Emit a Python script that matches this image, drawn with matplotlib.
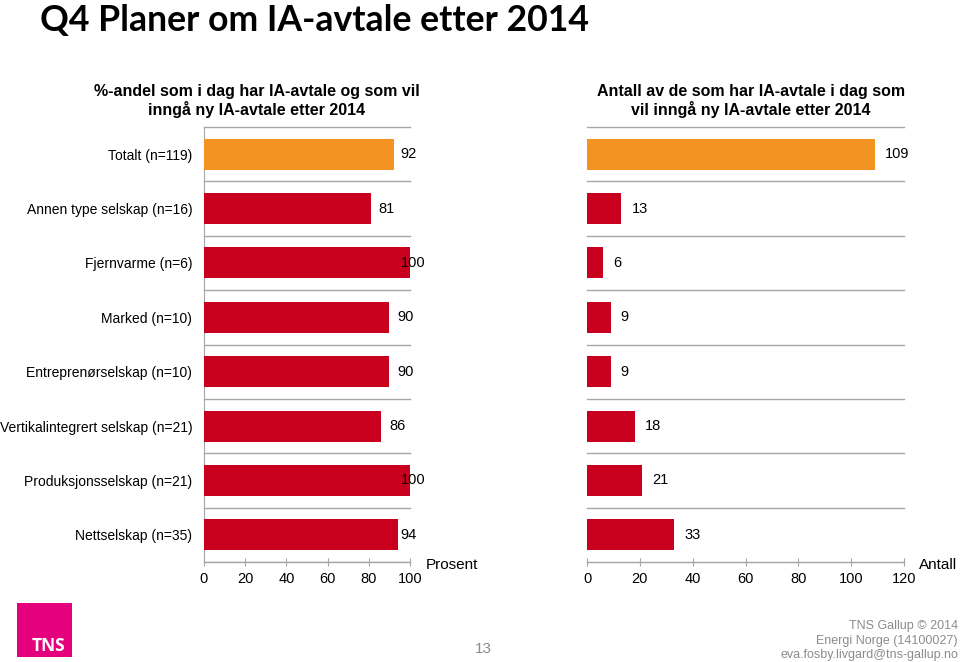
import matplotlib
matplotlib.use("Agg")
import matplotlib.pyplot as plt
from matplotlib.patches import Rectangle

plt.rcParams['font.family'] = ['Liberation Sans', 'DejaVu Sans']

categories = ["Totalt (n=119)", "Annen type selskap (n=16)", "Fjernvarme (n=6)",
              "Marked (n=10)", "Entreprenørselskap (n=10)",
              "Vertikalintegrert selskap (n=21)", "Produksjonsselskap (n=21)",
              "Nettselskap (n=35)"]
prosent = [92, 81, 100, 90, 90, 86, 100, 94]
antall = [109, 13, 6, 9, 9, 18, 21, 33]
left_ticks = [0, 20, 40, 60, 80, 100]
right_ticks = [0, 20, 40, 60, 80, 100, 120]

ORANGE = "#F39321"
RED = "#C8001E"
GRID = "#A6A6A6"
colors = [ORANGE] + [RED] * (len(categories) - 1)

fig = plt.figure(figsize=(9.6, 6.62), dpi=100)

H = 662.0
W = 960.0
ybot = 1 - 562 / H
ytop = 1 - 127 / H
axL = fig.add_axes([204 / W, ybot, 206 / W, ytop - ybot])
axR = fig.add_axes([587 / W, ybot, 317 / W, ytop - ybot])

n = len(categories)
ypos = list(range(n))

for ax, vals, xmax, ticks, off, cap in [(axL, prosent, 100, left_ticks, 3.8, 95.5),
                                         (axR, antall, 120, right_ticks, 3.8, 200)]:
    ax.barh(ypos, vals, height=0.57, color=colors, zorder=3)
    ax.set_xlim(0, xmax)
    ax.set_ylim(n - 0.5, -0.5)
    for b in range(n + 1):
        ax.axhline(b - 0.5, color=GRID, lw=1.0, zorder=1, clip_on=False)
    for s in ['top', 'right']:
        ax.spines[s].set_visible(False)
    ax.spines['bottom'].set_color(GRID)
    ax.spines['left'].set_color(GRID)
    ax.set_xticks(ticks)
    ax.set_xticklabels([str(t) for t in ticks], fontsize=10.5)
    ax.tick_params(axis='x', direction='inout', length=6, color=GRID, pad=4)
    for i, v in enumerate(vals):
        ax.text(min(v + off, cap), i, str(v), va='center', ha='left', fontsize=10.5, zorder=4)

axL.set_yticks(ypos)
axL.set_yticklabels(categories, fontsize=10)
axL.tick_params(axis='y', length=0, pad=8.5)
axL.spines['bottom'].set_visible(False)
axL.axhline(n - 0.5, color=GRID, lw=1.0, zorder=1)

axR.set_yticks([])
axR.spines['left'].set_visible(False)

fig.text(426 / W, 1 - 565 / H, "Prosent", fontsize=11, va='center', ha='left')
fig.text(957 / W, 1 - 565 / H, "Antall", fontsize=11, va='center', ha='right')

fig.text(257 / W, 1 - 101 / H, "%-andel som i dag har IA-avtale og som vil\ninngå ny IA-avtale etter 2014",
         fontsize=11.5, fontweight='bold', ha='center', va='center', linespacing=1.2)
fig.text(751 / W, 1 - 101 / H, "Antall av de som har IA-avtale i dag som\nvil inngå ny IA-avtale etter 2014",
         fontsize=11.5, fontweight='bold', ha='center', va='center', linespacing=1.2)

fig.text(40 / W, 1 - 21 / H, "Q4 Planer om IA-avtale etter 2014", fontsize=25.7,
         fontweight='bold', family=['Lato', 'DejaVu Sans'], ha='left', va='center')

# footer
fig.patches.append(Rectangle((17 / W, 1 - 657 / H), 55 / W, 54 / H, transform=fig.transFigure,
                             facecolor="#E5007D", edgecolor='none'))
fig.text(49 / W, 1 - 646 / H, "TNS", color='white', fontsize=12.5, fontweight='bold',
         family=['Open Sans', 'DejaVu Sans'], ha='center', va='center')
fig.text(483 / W, 1 - 649 / H, "13", color='#8C8C8C', fontsize=11, ha='center', va='center')
fig.text(958 / W, 1 - 626 / H, "TNS Gallup © 2014", color='#8C8C8C', fontsize=9, ha='right', va='center')
fig.text(958 / W, 1 - 641 / H, "Energi Norge (14100027)", color='#8C8C8C', fontsize=9, ha='right', va='center')
fig.text(958 / W, 1 - 655 / H, "eva.fosby.livgard@tns-gallup.no", color='#8C8C8C', fontsize=9, ha='right', va='center')

fig.savefig("out.png", dpi=100)
